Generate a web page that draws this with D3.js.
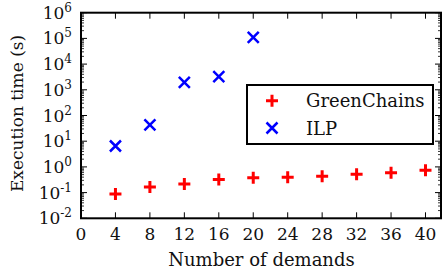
<!DOCTYPE html>
<html><head><meta charset="utf-8">
<script src="https://cdn.jsdelivr.net/npm/d3@7"></script>
<style>body{margin:0;background:#fff}svg{display:block}text{font-family:"DejaVu Serif",serif;fill:#111}</style>
</head><body><svg id="c" width="442" height="275"></svg>
<script>
const demands = [4, 8, 12, 16, 20, 24, 28, 32, 36, 40];
const greenChains = [0.088, 0.165, 0.216, 0.32, 0.38, 0.40, 0.43, 0.52, 0.59, 0.74];
const ilpDemands = [4, 8, 12, 16, 20];
const ilp = [6.5, 43, 1950, 3230, 110000];
const xTicks = [0, 4, 8, 12, 16, 20, 24, 28, 32, 36, 40];
const yExponents = [-2, -1, 0, 1, 2, 3, 4, 5, 6];
const seriesNames = ["GreenChains", "ILP"];

const svg = d3.select("#c");
const L = 81, R = 441, T = 12.7, B = 218.3;
const x = d3.scaleLinear().domain([0, 41.8]).range([L, R]);
const y = d3.scaleLog().domain([1e-2, 1e6]).range([B, T]);

const minors = [];
for (let e = -2; e < 6; e++) for (let m = 2; m <= 9; m++) minors.push(m * Math.pow(10, e));

const g = svg.append("g");
g.selectAll(".ylmaj").data(yExponents).join("line")
  .attr("x1", L).attr("x2", L + 6).attr("y1", d => y(Math.pow(10, d))).attr("y2", d => y(Math.pow(10, d)))
  .attr("stroke", "#000").attr("stroke-width", 1);
g.selectAll(".ylmin").data(minors).join("line")
  .attr("x1", L).attr("x2", L + 3).attr("y1", d => y(d)).attr("y2", d => y(d))
  .attr("stroke", "#000").attr("stroke-width", 0.8);
g.selectAll(".yrmaj").data(yExponents).join("line")
  .attr("x1", R).attr("x2", R - 6).attr("y1", d => y(Math.pow(10, d))).attr("y2", d => y(Math.pow(10, d)))
  .attr("stroke", "#000").attr("stroke-width", 1);
g.selectAll(".yrmin").data(minors).join("line")
  .attr("x1", R).attr("x2", R - 3).attr("y1", d => y(d)).attr("y2", d => y(d))
  .attr("stroke", "#000").attr("stroke-width", 0.8);
g.selectAll(".xb").data(xTicks).join("line")
  .attr("x1", d => x(d)).attr("x2", d => x(d)).attr("y1", B).attr("y2", B - 6)
  .attr("stroke", "#000").attr("stroke-width", 1);
g.selectAll(".xt").data(xTicks).join("line")
  .attr("x1", d => x(d)).attr("x2", d => x(d)).attr("y1", T).attr("y2", T + 6)
  .attr("stroke", "#000").attr("stroke-width", 1);

g.append("rect").attr("x", L).attr("y", T).attr("width", R - L).attr("height", B - T)
  .attr("fill", "none").attr("stroke", "#000").attr("stroke-width", 2);

g.selectAll(".xl").data(xTicks).join("text")
  .attr("x", d => x(d)).attr("y", 240).attr("text-anchor", "middle")
  .attr("font-size", 17).text(d => d);
const yl = g.selectAll(".yl").data(yExponents).join("text")
  .attr("x", 72).attr("y", d => y(Math.pow(10, d)) + 6).attr("text-anchor", "end")
  .attr("font-size", 17);
yl.append("tspan").text("10");
yl.append("tspan").attr("dy", -7).attr("font-size", 12).text(d => d < 0 ? "-" + (-d) : d);

svg.append("text").attr("x", 261.5).attr("y", 266).attr("text-anchor", "middle")
  .attr("font-size", 18).text("Number of demands");
svg.append("text").attr("transform", "translate(22.5,113.5) rotate(-90)")
  .attr("text-anchor", "middle").attr("font-size", 17).text("Execution time (s)");

const plusPath = s => `M${-s},0H${s}M0,${-s}V${s}`;
const xPath = s => `M${-s},${-s}L${s},${s}M${-s},${s}L${s},${-s}`;
const gcData = demands.map((d, i) => ({ x: d, v: greenChains[i] }));
const ilpData = ilpDemands.map((d, i) => ({ x: d, v: ilp[i] }));
svg.selectAll(".gc").data(gcData).join("path")
  .attr("transform", d => `translate(${x(d.x)},${y(d.v)})`).attr("d", plusPath(6))
  .attr("stroke", "#ff0000").attr("stroke-width", 3).attr("fill", "none");
svg.selectAll(".ilp").data(ilpData).join("path")
  .attr("transform", d => `translate(${x(d.x)},${y(d.v)})`).attr("d", xPath(5.5))
  .attr("stroke", "#0000ff").attr("stroke-width", 2.5).attr("fill", "none");

const lg = svg.append("g");
lg.append("rect").attr("x", 247).attr("y", 85).attr("width", 186).attr("height", 59)
  .attr("fill", "#fff").attr("stroke", "#000").attr("stroke-width", 2);
lg.append("path").attr("transform", "translate(272,100.7)").attr("d", plusPath(6))
  .attr("stroke", "#ff0000").attr("stroke-width", 3).attr("fill", "none");
lg.append("path").attr("transform", "translate(272,128)").attr("d", xPath(5.5))
  .attr("stroke", "#0000ff").attr("stroke-width", 2.5).attr("fill", "none");
lg.append("text").attr("x", 306).attr("y", 107).attr("font-size", 18).text(seriesNames[0]);
lg.append("text").attr("x", 306).attr("y", 134.5).attr("font-size", 18).text(seriesNames[1]);
</script></body></html>
